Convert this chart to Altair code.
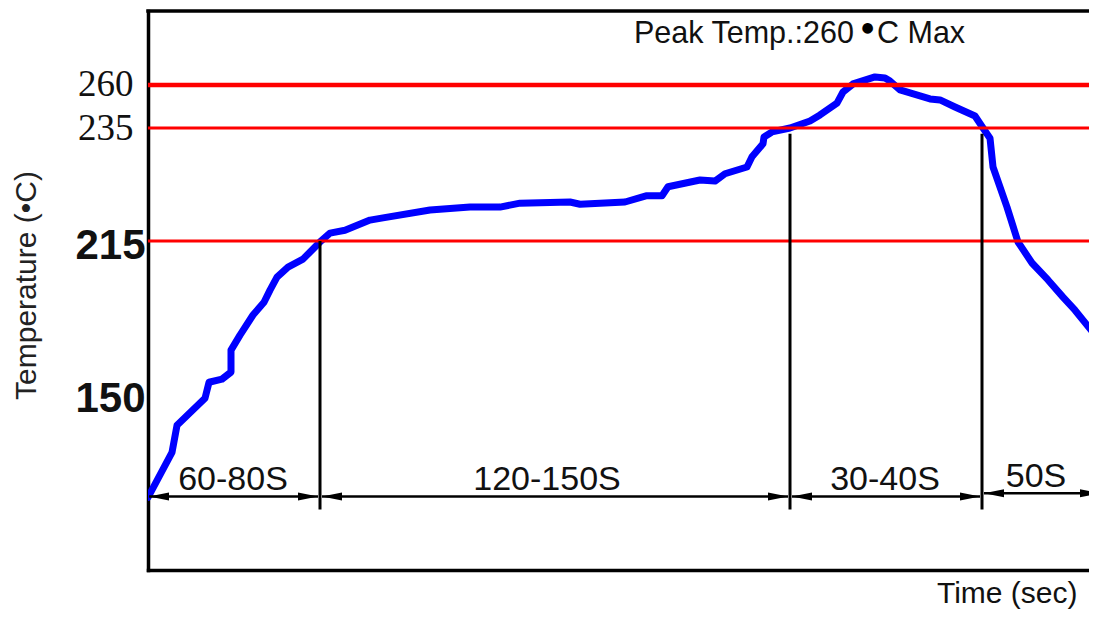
import altair as alt
import pandas as pd

# ---- data (schematic time units, temperature in °C) ----
curve_t = [0, 24, 29, 57, 61, 74, 83, 83, 92, 105, 116, 122, 129, 140, 155, 172, 182, 197, 222, 235,
           282, 322, 352, 372, 422, 432, 477, 498, 514, 520, 552, 567, 577, 599, 604, 615, 616, 624, 642, 662,
           672, 689, 695, 705, 727, 737, 742, 752, 782, 792, 807, 827, 835, 842, 845, 859, 870, 884, 900, 915,
           927, 949]
curve_temp = [109.0, 127.6, 138.8, 150.0, 156.6, 157.9, 160.8, 169.9, 176.1, 184.4, 189.7, 194.7, 200.1, 204.2,
              207.5, 214.6, 216.4, 216.9, 218.7, 219.1, 220.5, 221.0, 221.0, 221.7, 221.9, 221.5, 221.9, 223.0,
              223.0, 224.6, 225.8, 225.6, 226.9, 228.1, 229.9, 232.2, 233.4, 234.3, 235.0, 239.1, 242.6, 249.5,
              255.9, 260.6, 264.7, 264.1, 262.3, 257.1, 251.9, 251.3, 247.2, 242.0, 235.0, 233.2, 228.1, 221.0,
              214.6, 205.9, 198.9, 191.8, 186.4, 175.2]

limit_temps = [260, 235, 215]
tick_values = [150, 215, 235, 260]

vline_t = [172, 642, 834]
vline_top = [215, 234, 234]
vline_bottom = [104, 104, 104]

seg_start = [1, 174, 644, 836]
seg_end = [170, 640, 832, 952]
seg_temp = [109.4, 109.4, 109.4, 110.7]
seg_labels = ["60-80S", "120-150S", "30-40S", "50S"]
seg_label_t = [85, 399, 737, 888]

peak_parts = ["Peak Temp.:260", "C Max"]
peak_t = [486, 729]
peak_temp = [284.4, 284.4]
degree_mark = ["●"]
degree_t = [719.5]
degree_temp = [293.3]

# ---- frames ----
curve_df = pd.DataFrame({"i": list(range(len(curve_t))), "t": curve_t, "temp": curve_temp})
limit_df = pd.DataFrame({"temp": limit_temps})
vline_df = pd.DataFrame({"t": vline_t, "temp": vline_top, "temp2": vline_bottom})
seg_df = pd.DataFrame({"t": seg_start, "t2": seg_end, "temp": seg_temp})
left_heads = pd.DataFrame({"t": seg_start, "temp": seg_temp})
right_heads = pd.DataFrame({"t": seg_end, "temp": seg_temp})
label_df = pd.DataFrame({"t": seg_label_t, "temp": seg_temp, "label": seg_labels})
peak_df = pd.DataFrame({"t": peak_t, "temp": peak_temp, "label": peak_parts})
deg_df = pd.DataFrame({"t": degree_t, "temp": degree_temp, "label": degree_mark})

W, H = 941, 559
xscale = alt.Scale(domain=[0, W], nice=False, zero=False)
yscale = alt.Scale(domain=[79, 215, 235, 303], range=[H, 230, 117, 0], nice=False, zero=False)

x_axis = alt.Axis(title="Time (sec)", labels=False, ticks=False, tickSize=0, grid=False,
                  domain=True, domainColor="black", domainWidth=3.5, domainCap="square",
                  titleX=929, titleY=32, titleAlign="right", titleBaseline="alphabetic",
                  titleFont="Liberation Sans", titleFontSize=30, titleFontWeight="normal",
                  titleColor="#111111")
y_axis = alt.Axis(title="Temperature (•C)", values=tick_values, ticks=False, tickSize=0, grid=False,
                  domain=True, domainColor="black", domainWidth=3.5, domainCap="square",
                  labelColor="#111111",
                  labelFont={"condition": {"test": "datum.value >= 230", "value": "Liberation Serif"},
                             "value": "Liberation Sans"},
                  labelFontWeight={"condition": {"test": "datum.value >= 230", "value": "normal"},
                                   "value": "bold"},
                  labelFontSize={"condition": {"test": "datum.value >= 230", "value": 37},
                                 "value": 42},
                  labelPadding={"condition": {"test": "datum.value >= 230", "value": 15},
                                "value": 3},
                  labelOffset={"condition": {"test": "datum.value == 215", "value": 4},
                               "value": 0},
                  labelBaseline="middle",
                  titleX=-113, titleY=274, titleAngle=270, titleAlign="center",
                  titleBaseline="alphabetic", titleFont="Liberation Sans", titleFontSize=30,
                  titleFontWeight="normal", titleColor="#222222")

curve = alt.Chart(curve_df).mark_line(color="#0000FF", strokeWidth=7, strokeJoin="round",
                                      strokeCap="round", clip=True).encode(
    x=alt.X("t:Q", scale=xscale, axis=x_axis),
    y=alt.Y("temp:Q", scale=yscale, axis=y_axis),
    order="i:Q",
)

limits = alt.Chart(limit_df).mark_rule(color="#FF0000").encode(
    y="temp:Q",
    strokeWidth=alt.condition(alt.datum.temp == 260, alt.value(4.5), alt.value(3)),
)

vlines = alt.Chart(vline_df).mark_rule(color="black", strokeWidth=3).encode(
    x="t:Q", y="temp:Q", y2="temp2:Q"
)

segs = alt.Chart(seg_df).mark_rule(color="black", strokeWidth=2.5).encode(
    x="t:Q", x2="t2:Q", y="temp:Q"
)

lh = alt.Chart(left_heads).mark_point(shape="M0,0L2,-0.4L2,0.4Z", size=400, filled=True,
                                      color="black", opacity=1, strokeWidth=0).encode(
    x="t:Q", y="temp:Q"
)
rh = alt.Chart(right_heads).mark_point(shape="M0,0L-2,-0.4L-2,0.4Z", size=400, filled=True,
                                       color="black", opacity=1, strokeWidth=0).encode(
    x="t:Q", y="temp:Q"
)

labels = alt.Chart(label_df).mark_text(font="Liberation Sans", fontSize=34, color="#111111",
                                       align="center", baseline="alphabetic", dy=-6).encode(
    x="t:Q", y="temp:Q", text="label:N"
)

peak_main = alt.Chart(peak_df).mark_text(
    font="Liberation Sans", fontSize=30.5, color="#111111", align="left", baseline="alphabetic").encode(
    x="t:Q", y="temp:Q", text="label:N"
)
peak_dot = alt.Chart(deg_df).mark_text(
    font="DejaVu Sans", fontSize=14, color="black", align="center", baseline="middle").encode(
    x="t:Q", y="temp:Q", text="label:N"
)

top_border = alt.Chart(limit_df.head(1)).mark_rule(color="black", strokeWidth=3.5, strokeCap="square").encode(
    x=alt.value(0), x2=alt.value(W), y=alt.value(0)
)

chart = alt.layer(curve, limits, vlines, segs, lh, rh, labels, peak_main, peak_dot, top_border).properties(
    width=W, height=H,
    autosize=alt.AutoSizeParams(type="none"),
    padding={"left": 140, "top": 3, "right": 0, "bottom": 39},
).configure_view(stroke=None)

chart.save("out.html", embed_options={"renderer": "svg", "actions": False})
